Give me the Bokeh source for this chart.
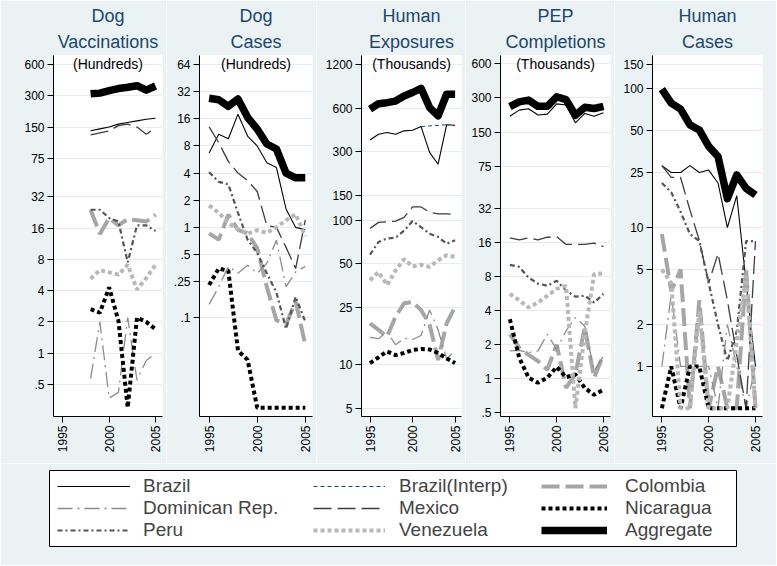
import math
from bokeh.plotting import figure
from bokeh.models import FixedTicker, Range1d, Label, Legend, LegendItem, Title
from bokeh.layouts import row, column
from bokeh.embed import file_html
from bokeh.resources import INLINE

nan = float("nan")
years = [1995, 1996, 1997, 1998, 1999, 2000, 2001, 2002, 2003, 2004, 2005]

# ---- Dog Vaccinations (hundreds), data from 1998 ----
dv_brazil = [nan, nan, nan, 138, 144, 150, 160, 166, 172, 178, 182]
dv_mexico = [nan, nan, nan, 126, 132, 138, 155, 160, 150, 128, 148]
dv_colombia = [nan, nan, nan, 24, 14, 20, 17, 19.5, 19, 18.5, 21.5]
dv_domrep = [nan, nan, nan, 0.57, 2.0, 0.37, 0.42, 2.2, 0.55, 0.85, 1.0]
dv_nicaragua = [nan, nan, nan, 2.65, 2.45, 4.3, 2.05, 0.3, 2.2, 2.0, 1.7]
dv_peru = [nan, nan, nan, 24, 24, 20, 18.5, 7.5, 17, 17, 15]
dv_venezuela = [nan, nan, nan, 5.2, 6.3, 6.0, 5.7, 7.1, 4.1, 5.3, 7.1]
dv_aggregate = [nan, nan, nan, 313, 318, 336, 352, 362, 375, 340, 372]

# ---- Dog Cases (hundreds) ----
dc_brazil = [6.7, 10.8, 9.6, 18, 10.3, 8, 5.2, 4.6, 1.6, 1.0, 0.94]
dc_mexico = [13, 8.7, 5.4, 4.0, 3.3, 2.5, 1.05, 1.0, 0.6, 0.35, 1.2]
dc_colombia = [0.86, 0.73, 1.38, 0.94, 0.86, 0.59, 0.22, 0.093, 0.085, 0.15, 0.05]
dc_domrep = [0.14, 0.22, 0.37, 0.31, 0.38, 0.31, 0.4, 0.72, 0.22, 0.32, 0.37]
dc_nicaragua = [0.23, 0.35, 0.33, 0.043, 0.034, 0.01, 0.01, 0.01, 0.01, 0.01, 0.01]
dc_peru = [4.1, 3.2, 3.0, 1.45, 0.73, 0.52, 0.31, 0.19, 0.075, 0.17, 0.09]
dc_venezuela = [1.75, 1.45, 1.12, 0.95, 0.85, 0.93, 0.87, 1.0, 1.2, 1.4, 0.8]
dc_aggregate = [27, 26, 22, 26.5, 16.6, 12.3, 8.4, 7.4, 4.0, 3.55, 3.55]

# ---- Human Exposures (thousands) ----
he_brazil = [360, 395, 406, 395, 417, 421, 446, 296, 245, 459, 456]
he_brazil_interp = [nan, nan, nan, nan, nan, nan, 446, 451, 455, 459, nan]
he_mexico = [88, 97, 98, 99, 105, 124, 124, 114, 111, 111, 110]
he_colombia = [19.4, 17.5, 15.7, 21.6, 26.7, 27.3, 24, 19, 10.8, 19.4, 25.3]
he_domrep = [15.5, 15.2, 17, 13.8, 15.3, 15, 16, 24, 17.5, 11, 12.5]
he_nicaragua = [10.3, 11.3, 12.4, 11.7, 12.1, 12.7, 12.9, 12.8, 12.1, 11.1, 10.3]
he_peru = [58, 71, 75, 76, 85, 99, 90, 81, 77, 69, 73]
he_venezuela = [38.6, 44, 35.7, 45, 54, 48, 49.4, 47.7, 53, 57.4, 56]
he_aggregate = [589, 643, 653, 670, 727, 768, 821, 604, 530, 747, 747]

# ---- PEP Completions (thousands) ----
pep_brazil = [207, 234, 241, 212, 216, 266, 260, 181, 219, 207, 222]
pep_mexico = [17.5, 16.8, 17.5, 16.8, 17.7, 17.9, 15.3, 15.3, 15.3, 15.7, 14.6]
pep_colombia = [2.47, 1.88, 1.62, 1.43, 1.2, 2.0, 0.83, 1.1, 2.83, 1.02, 1.64]
pep_domrep = [1.76, 1.78, 1.7, 1.76, 2.47, 1.82, 2.64, 3.46, 2.9, 1.17, 1.59]
pep_nicaragua = [3.35, 1.53, 1.02, 0.92, 1.02, 1.27, 1.03, 1.09, 0.83, 0.72, 0.8]
pep_peru = [10.1, 9.7, 7.8, 6.9, 6.6, 7.3, 6.0, 5.3, 5.4, 4.7, 5.6]
pep_venezuela = [5.6, 4.9, 4.25, 4.7, 5.4, 6.2, 6.6, 0.55, 2.5, 8.4, 8.5]
pep_aggregate = [251, 277, 287, 253, 253, 307, 290, 211, 248, 242, 253]

# ---- Human Cases ----
hc_brazil = [28, 25, 25, 28, 25, 26, 21, 10, 17, 4, 1]
hc_mexico = [28, 23, 23, 13.4, 8.1, 4, 6.5, 3, 1.2, 0.5, 8]
hc_colombia = [9, 3.5, 5, 0.5, 3, 0.5, 1, 0.5, 0.5, 5, 0.5]
hc_domrep = [1, 3.3, 1, 1, 1, 1, 0.5, 2, 1, 0.5, 1]
hc_nicaragua = [0.5, 1, 0.5, 1, 1, 0.5, 0.5, 0.5, 0.5, 0.5, 0.5]
hc_peru = [21, 18, 13, 9, 8, 4, 2, 1.1, 1.8, 8, 8]
hc_venezuela = [5, 4, 0.5, 0.5, 2.5, 0.5, 0.5, 0.5, 1.5, 4.5, 0.5]
hc_aggregate = [99.7, 79, 71.5, 55, 50.6, 38.5, 32.6, 16.2, 24, 19.2, 17.2]

# tick values and labels
dv_ticks = [0.5, 1, 2, 4, 8, 16, 32, 75, 150, 300, 600]
dv_labels = [".5", "1", "2", "4", "8", "16", "32", "75", "150", "300", "600"]
dc_ticks = [0.1, 0.25, 0.5, 1, 2, 4, 8, 16, 32, 64]
dc_labels = [".1", ".25", ".5", "1", "2", "4", "8", "16", "32", "64"]
he_ticks = [5, 10, 25, 50, 100, 150, 300, 600, 1200]
he_labels = ["5", "10", "25", "50", "100", "150", "300", "600", "1200"]
pep_ticks = [0.5, 1, 2, 4, 8, 16, 32, 75, 150, 300, 600]
pep_labels = [".5", "1", "2", "4", "8", "16", "32", "75", "150", "300", "600"]
hc_ticks = [1, 2, 5, 10, 25, 50, 100, 150]
hc_labels = ["1", "2", "5", "10", "25", "50", "100", "150"]
x_ticks = [1995, 2000, 2005]

BG = "#EAF2F3"
FONT = "Liberation Sans"
TITLE_COLOR = "#1A476F"

order = ["Brazil", "Brazil(Interp)", "Colombia", "Dominican Rep.", "Mexico",
         "Nicaragua", "Peru", "Venezuela", "Aggregate"]
styles = {
    "Brazil": dict(line_color="black", line_width=1.1),
    "Brazil(Interp)": dict(line_color="#1A476F", line_width=1.0, line_dash="4 3"),
    "Colombia": dict(line_color="#A6A6A6", line_width=4, line_dash="18 6"),
    "Dominican Rep.": dict(line_color="#8C8C8C", line_width=1.3, line_dash="15 5 2 5"),
    "Mexico": dict(line_color="#3C3C3C", line_width=1.3, line_dash="18 6"),
    "Nicaragua": dict(line_color="black", line_width=4, line_dash="4 3"),
    "Peru": dict(line_color="#555555", line_width=2.2, line_dash="5 3 2 3"),
    "Venezuela": dict(line_color="#B8B8B8", line_width=4, line_dash="4 3"),
    "Aggregate": dict(line_color="black", line_width=7.5, line_join="round"),
}

X0, X1 = 1994.0, 2005.75


def style_title(t, standoff, valign):
    t.align = "center"
    t.vertical_align = valign
    t.text_font = FONT
    t.text_font_size = "18px"
    t.text_font_style = "normal"
    t.text_color = TITLE_COLOR
    t.standoff = standoff
    t.offset = 0


def make_panel(title1, title2, subtitle, series, ticks, labels, yr, left, fw, right):
    p = figure(width=left + fw + right, height=463, y_axis_type="log",
               x_range=Range1d(X0, X1), y_range=Range1d(yr[0], yr[1]),
               output_backend="svg", toolbar_location=None,
               min_border_left=left, min_border_right=right,
               min_border_top=55, min_border_bottom=47)
    p.title.text = title1
    style_title(p.title, 4, "bottom")
    t2 = Title(text=title2)
    style_title(t2, 6, "middle")
    p.add_layout(t2, "above")
    p.background_fill_color = "white"
    p.border_fill_color = BG
    p.outline_line_color = None
    p.yaxis.ticker = FixedTicker(ticks=ticks)
    p.yaxis.major_label_overrides = {t: l for t, l in zip(ticks, labels)}
    p.xaxis.ticker = FixedTicker(ticks=x_ticks)
    p.xaxis.major_label_orientation = math.pi / 2
    for ax in (p.xaxis[0], p.yaxis[0]):
        ax.minor_tick_line_color = None
        ax.major_tick_in = 0
        ax.major_tick_out = 6
        ax.major_label_standoff = 3
        ax.axis_line_color = "black"
        ax.major_tick_line_color = "black"
        ax.major_label_text_font = FONT
        ax.major_label_text_font_size = "12px"
        ax.major_label_text_color = "black"
    p.xgrid.visible = False
    p.ygrid.grid_line_color = "#E3ECEE"
    p.ygrid.grid_line_width = 1
    for name in order:
        if name in series:
            p.line(years, series[name], **styles[name])
    if subtitle:
        p.add_layout(Label(x=(X0 + X1) / 2, y=yr[1], text=subtitle,
                           text_align="center", text_baseline="top", y_offset=0,
                           text_font=FONT, text_font_size="14px", text_color="black"))
    return p


p1 = make_panel("Dog", "Vaccinations", "(Hundreds)",
                {"Brazil": dv_brazil, "Mexico": dv_mexico, "Colombia": dv_colombia,
                 "Dominican Rep.": dv_domrep, "Nicaragua": dv_nicaragua, "Peru": dv_peru,
                 "Venezuela": dv_venezuela, "Aggregate": dv_aggregate},
                dv_ticks, dv_labels, (0.246, 732), 53, 109, 4)
p2 = make_panel("Dog", "Cases", "(Hundreds)",
                {"Brazil": dc_brazil, "Mexico": dc_mexico, "Colombia": dc_colombia,
                 "Dominican Rep.": dc_domrep, "Nicaragua": dc_nicaragua, "Peru": dc_peru,
                 "Venezuela": dc_venezuela, "Aggregate": dc_aggregate},
                dc_ticks, dc_labels, (0.008, 80.5), 33, 113, 4)
p3 = make_panel("Human", "Exposures", "(Thousands)",
                {"Brazil": he_brazil, "Brazil(Interp)": he_brazil_interp, "Mexico": he_mexico,
                 "Colombia": he_colombia, "Dominican Rep.": he_domrep,
                 "Nicaragua": he_nicaragua, "Peru": he_peru,
                 "Venezuela": he_venezuela, "Aggregate": he_aggregate},
                he_ticks, he_labels, (4.4, 1385), 45, 100, 4)
p4 = make_panel("PEP", "Completions", "(Thousands)",
                {"Brazil": pep_brazil, "Mexico": pep_mexico, "Colombia": pep_colombia,
                 "Dominican Rep.": pep_domrep, "Nicaragua": pep_nicaragua, "Peru": pep_peru,
                 "Venezuela": pep_venezuela, "Aggregate": pep_aggregate},
                pep_ticks, pep_labels, (0.464, 710), 35, 110, 4)
p5 = make_panel("Human", "Cases", None,
                {"Brazil": hc_brazil, "Mexico": hc_mexico, "Colombia": hc_colombia,
                 "Dominican Rep.": hc_domrep, "Nicaragua": hc_nicaragua, "Peru": hc_peru,
                 "Venezuela": hc_venezuela, "Aggregate": hc_aggregate},
                hc_ticks, hc_labels, (0.436, 174), 38, 110, 14)

# ---- legend panel ----
lg = figure(width=776, height=102, x_range=Range1d(0, 1), y_range=Range1d(0, 1),
            min_border_left=49, min_border_right=40, min_border_top=7, min_border_bottom=19,
            output_backend="svg", toolbar_location=None,
            x_axis_location=None, y_axis_location=None)
lg.outline_line_color = "black"
lg.outline_line_width = 1
lg.background_fill_color = "white"
lg.border_fill_color = BG
lg.xgrid.visible = False
lg.ygrid.visible = False

legend_cols = [["Brazil", "Dominican Rep.", "Peru"],
               ["Brazil(Interp)", "Mexico", "Venezuela"],
               ["Colombia", "Nicaragua", "Aggregate"]]
col_pos = [(8, 5), (264, 5), (492, 5)]
col_glyph_w = [73, 72, 66]
col_standoff = [13, 14, 18]
for names, loc, gw, so in zip(legend_cols, col_pos, col_glyph_w, col_standoff):
    items = []
    for n in names:
        r = lg.line([nan, nan], [nan, nan], **styles[n])
        items.append(LegendItem(label=n, renderers=[r]))
    leg = Legend(items=items, location=loc, orientation="vertical",
                 glyph_width=gw, glyph_height=20, label_standoff=so,
                 label_text_font=FONT, label_text_font_size="19px",
                 label_height=20, spacing=0, padding=0, margin=0,
                 border_line_color=None, background_fill_alpha=0)
    lg.add_layout(leg)

layout = column(row(p1, p2, p3, p4, p5), lg)
open("out.html", "w").write(file_html(layout, INLINE))
